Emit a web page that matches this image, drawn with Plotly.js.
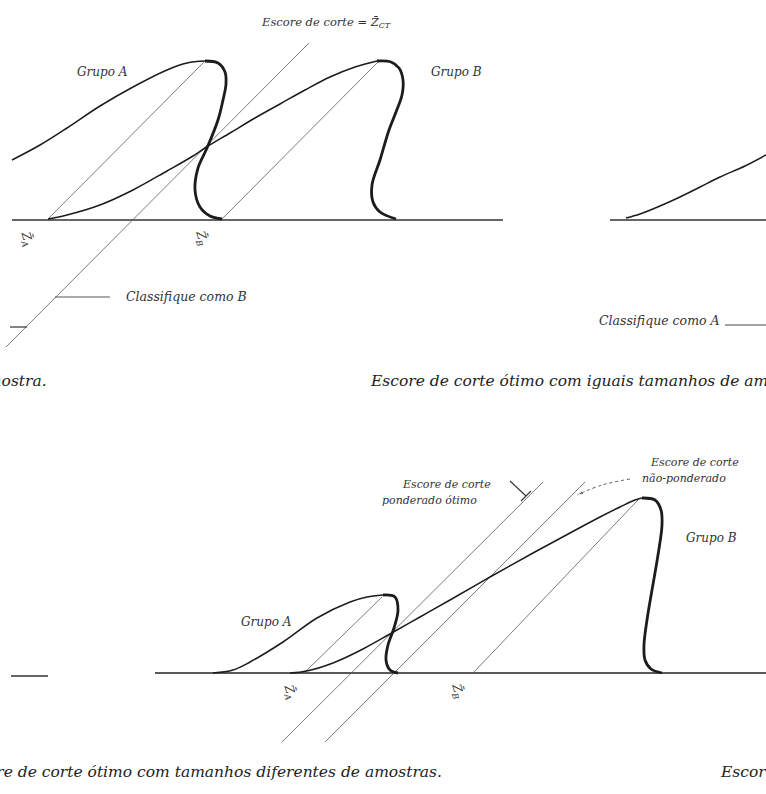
<!DOCTYPE html>
<html>
<head>
<meta charset="utf-8">
<script src="https://cdn.plot.ly/plotly-3.0.1.min.js"></script>
<style>
  html, body { margin: 0; padding: 0; background: #fff; }
  #chart { width: 766px; height: 794px; }
</style>
</head>
<body>
<div id="chart"></div>
<script>
// Diagram units: x grows to the right, y grows downward (page-like layout).

// ---- Upper panel: equal group sizes ----
const upBaseX = [12, 503];
const upBaseY = [220, 220];
const upA_riseX = [12, 40, 67, 100, 133, 167, 187, 205];
const upA_riseY = [160, 145, 128, 106, 87, 70, 63, 61];
const upA_fallX = [205, 218, 225, 226, 223, 218, 207, 198, 195, 200, 210, 222];
const upA_fallY = [61, 63, 72, 84, 100, 120, 148, 168, 190, 207, 216, 219];
const upB_riseX = [48, 67, 100, 133, 167, 193, 205, 230, 255, 280, 305, 330, 355, 377];
const upB_riseY = [219, 215, 205, 190, 171, 156, 148, 133, 118, 104, 90, 77, 67, 61];
const upB_fallX = [377, 391, 399, 403, 402, 396, 389, 380, 372, 373, 380, 396];
const upB_fallY = [61, 62, 68, 80, 95, 112, 130, 160, 185, 202, 212, 219];
const upMeanAX = [48, 204];
const upMeanAY = [219, 62];
const upMeanBX = [222, 378];
const upMeanBY = [219, 62];
const upCutX = [309, 6];
const upCutY = [43, 347];
const upClassBX = [55, 110];
const upClassBY = [297, 297];
const leftStubX = [10, 27];
const leftStubY = [327, 327];

// ---- Neighbouring panel on the right (partly visible) ----
const rightBaseX = [610, 766];
const rightBaseY = [220, 220];
const rightCurveX = [626, 640, 660, 680, 700, 720, 745, 766];
const rightCurveY = [218, 214, 206, 197, 187, 177, 166, 155];
const rightClassAX = [725, 766];
const rightClassAY = [325, 325];

// ---- Lower panel: different group sizes ----
const lowBaseX = [155, 766];
const lowBaseY = [673, 673];
const lowStubX = [11, 48];
const lowStubY = [676, 676];
const lowA_riseX = [213, 233, 250, 283, 317, 350, 367, 383];
const lowA_riseY = [673, 670, 662, 642, 618, 602, 597, 595];
const lowA_fallX = [383, 395, 398, 394, 388, 386, 390, 398];
const lowA_fallY = [595, 597, 610, 628, 645, 660, 670, 673];
const lowB_riseX = [290, 307, 333, 363, 390, 420, 450, 490, 533, 570, 600, 620, 635, 642];
const lowB_riseY = [673, 671, 663, 649, 634, 617, 600, 577, 553, 533, 517, 507, 500, 498];
const lowB_fallX = [642, 655, 661, 662, 658, 652, 647, 644, 645, 651, 662];
const lowB_fallY = [498, 500, 510, 525, 555, 590, 620, 645, 660, 669, 673];
const lowMeanAX = [305, 382];
const lowMeanAY = [672, 597];
const lowMeanBX = [473, 638];
const lowMeanBY = [673, 500];
const lowCutWeightedX = [282, 543];
const lowCutWeightedY = [742, 482];
const lowCutPlainX = [325, 585];
const lowCutPlainY = [742, 482];
const bracketX = [510, 526];
const bracketY = [481, 496];
const bracketTickX = [521, 531];
const bracketTickY = [501, 491];
const pointerX = [630, 602, 577];
const pointerY = [479, 485, 495];

const INK = '#1c1c1c';
const GUIDE = '#5a5a5a';

function stroke(x, y, width, color, extra) {
  return Object.assign({
    type: 'scatter', mode: 'lines', x: x, y: y,
    line: { color: color, width: width },
    hoverinfo: 'skip', showlegend: false
  }, extra || {});
}
function curve(x, y, width) {
  return stroke(x, y, width, INK, { line: { color: INK, width: width, shape: 'spline', smoothing: 1 } });
}

const traces = [
  // upper panel
  stroke(upBaseX, upBaseY, 1.3, '#333'),
  stroke(upMeanAX, upMeanAY, 0.8, GUIDE),
  stroke(upMeanBX, upMeanBY, 0.8, GUIDE),
  stroke(upCutX, upCutY, 0.8, GUIDE),
  stroke(upClassBX, upClassBY, 0.9, '#444'),
  stroke(leftStubX, leftStubY, 1.2, '#333'),
  curve(upA_riseX, upA_riseY, 1.5),
  curve(upA_fallX, upA_fallY, 2.8),
  curve(upB_riseX, upB_riseY, 1.5),
  curve(upB_fallX, upB_fallY, 2.8),
  // right fragment
  stroke(rightBaseX, rightBaseY, 1.3, '#333'),
  curve(rightCurveX, rightCurveY, 1.5),
  stroke(rightClassAX, rightClassAY, 1.0, '#444'),
  // lower panel
  stroke(lowBaseX, lowBaseY, 1.3, '#222'),
  stroke(lowStubX, lowStubY, 1.3, '#333'),
  stroke(lowMeanAX, lowMeanAY, 0.8, GUIDE),
  stroke(lowMeanBX, lowMeanBY, 0.8, GUIDE),
  stroke(lowCutWeightedX, lowCutWeightedY, 0.8, GUIDE),
  stroke(lowCutPlainX, lowCutPlainY, 0.8, GUIDE),
  stroke(bracketX, bracketY, 1.1, '#333'),
  stroke(bracketTickX, bracketTickY, 1.1, '#333'),
  {
    type: 'scatter', mode: 'lines+markers', x: pointerX, y: pointerY,
    line: { color: '#444', width: 0.9, dash: 'dot', shape: 'spline' },
    marker: { symbol: 'arrow', angleref: 'previous', size: [0, 0, 7], color: '#444' },
    hoverinfo: 'skip', showlegend: false
  },
  curve(lowA_riseX, lowA_riseY, 1.5),
  curve(lowA_fallX, lowA_fallY, 2.8),
  curve(lowB_riseX, lowB_riseY, 1.5),
  curve(lowB_fallX, lowB_fallY, 2.8)
];

const SERIF = 'DejaVu Serif, Liberation Serif, serif';
function label(text, x, y, anchor, size, color, angle) {
  return {
    text: '<i>' + text + '</i>', x: x, y: y, xref: 'x', yref: 'y',
    xanchor: anchor, yanchor: 'middle', showarrow: false,
    textangle: angle || 0,
    font: { family: SERIF, size: size, color: color }
  };
}
const zBar = 'Z\u0304';

const annotations = [
  label('Escore de corte = ' + zBar + '<sub>CT</sub>', 259, 22, 'left', 11.5, '#333'),
  label('Grupo A', 75, 72, 'left', 12, '#333'),
  label('Grupo B', 429, 72, 'left', 12, '#333'),
  label(zBar + '<sub>A</sub>', 27, 238, 'center', 12, '#333', 75),
  label(zBar + '<sub>B</sub>', 202, 238, 'center', 12, '#333', 75),
  label('Classifique como B', 124, 296, 'left', 12.5, '#333'),
  label('Classifique como A', 722, 320, 'right', 12.5, '#333'),
  label('tamanhos de amostra.', 49, 381, 'right', 15.5, '#222'),
  label('Escore de corte ótimo com iguais tamanhos de amostras', 368, 381, 'left', 15.5, '#222'),
  label('Escore de corte', 400, 484, 'left', 11, '#333'),
  label('ponderado ótimo', 380, 500, 'left', 11, '#333'),
  label('Escore de corte', 648, 462, 'left', 11, '#333'),
  label('não-ponderado', 640, 478, 'left', 11, '#333'),
  label('Grupo B', 684, 538, 'left', 12, '#333'),
  label('Grupo A', 239, 622, 'left', 12, '#333'),
  label(zBar + '<sub>A</sub>', 290, 691, 'center', 12, '#333', 75),
  label(zBar + '<sub>B</sub>', 458, 691, 'center', 12, '#333', 75),
  label('Escore de corte ótimo com tamanhos diferentes de amostras.', 444, 772, 'right', 15.5, '#222'),
  label('Escore de corte', 718, 772, 'left', 15.5, '#222')
];

const layout = {
  width: 766, height: 794,
  margin: { l: 0, r: 0, t: 0, b: 0 },
  paper_bgcolor: '#ffffff', plot_bgcolor: '#ffffff',
  showlegend: false,
  xaxis: { range: [0, 766], visible: false, fixedrange: true },
  yaxis: { range: [794, 0], visible: false, fixedrange: true },
  annotations: annotations
};

Plotly.newPlot('chart', traces, layout, { staticPlot: true, displayModeBar: false });
</script>
</body>
</html>
